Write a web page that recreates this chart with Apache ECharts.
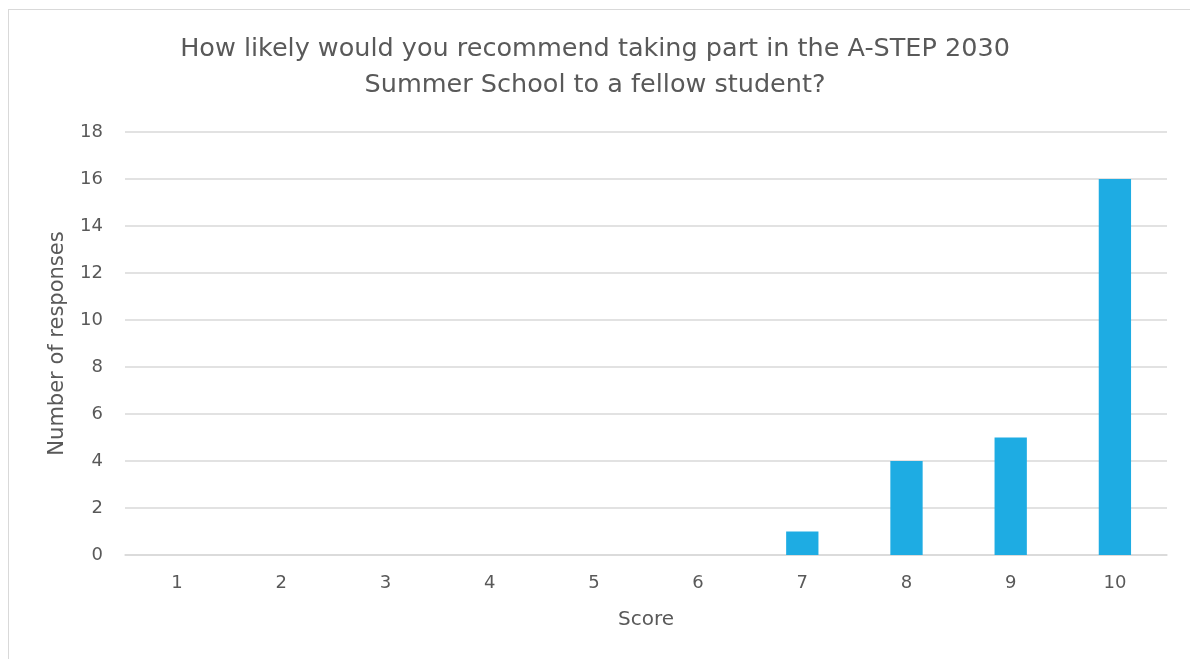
<!DOCTYPE html>
<html><head><meta charset="utf-8">
<script src="https://cdn.jsdelivr.net/npm/echarts@6/dist/echarts.min.js"></script>
<style>
html,body{margin:0;padding:0;background:#fff;overflow:hidden;}
#frame{position:absolute;left:8px;top:9px;width:1300px;height:800px;border-left:1.5px solid #d9d9d9;border-top:1.5px solid #d9d9d9;}
#c{position:absolute;left:0;top:0;width:1190px;height:659px;}
</style></head><body>
<div id="frame"></div>
<div id="c"></div>
<script>
const titleText = 'How likely would you recommend taking part in the A-STEP 2030\nSummer School to a fellow student?';
const categories = ['1','2','3','4','5','6','7','8','9','10'];
const responses = [0,0,0,0,0,0,1,4,5,16];
const xName = 'Score';
const yName = 'Number of responses';
const font = 'DejaVu Sans';
const chart = echarts.init(document.getElementById('c'), null, {renderer:'canvas'});
chart.setOption({
  backgroundColor:'transparent',
  animation:false,
  title:{text:titleText,left:'center',top:26,textStyle:{fontFamily:font,fontSize:25.5,fontWeight:'normal',color:'#595959',lineHeight:36}},
  grid:{left:125,right:23,top:132,bottom:104,containLabel:false},
  xAxis:{type:'category',data:categories,name:xName,nameLocation:'middle',nameGap:55,
    nameTextStyle:{fontFamily:font,fontSize:20,color:'#595959'},
    axisLine:{show:true,lineStyle:{color:'#d9d9d9',width:1.5}},axisTick:{show:false},
    axisLabel:{fontFamily:font,fontSize:18,color:'#595959',margin:19}},
  yAxis:{type:'value',min:0,max:18,interval:2,name:yName,nameLocation:'middle',nameGap:57,nameRotate:90,
    nameTextStyle:{fontFamily:font,fontSize:21,color:'#595959'},
    axisLine:{show:false},axisTick:{show:false},
    axisLabel:{fontFamily:font,fontSize:18,color:'#595959',margin:22},
    splitLine:{lineStyle:{color:'#d9d9d9',width:1.5}}},
  series:[{type:'bar',data:responses,barWidth:'31%',itemStyle:{color:'#1EACE3'}}]
});
</script></body></html>
